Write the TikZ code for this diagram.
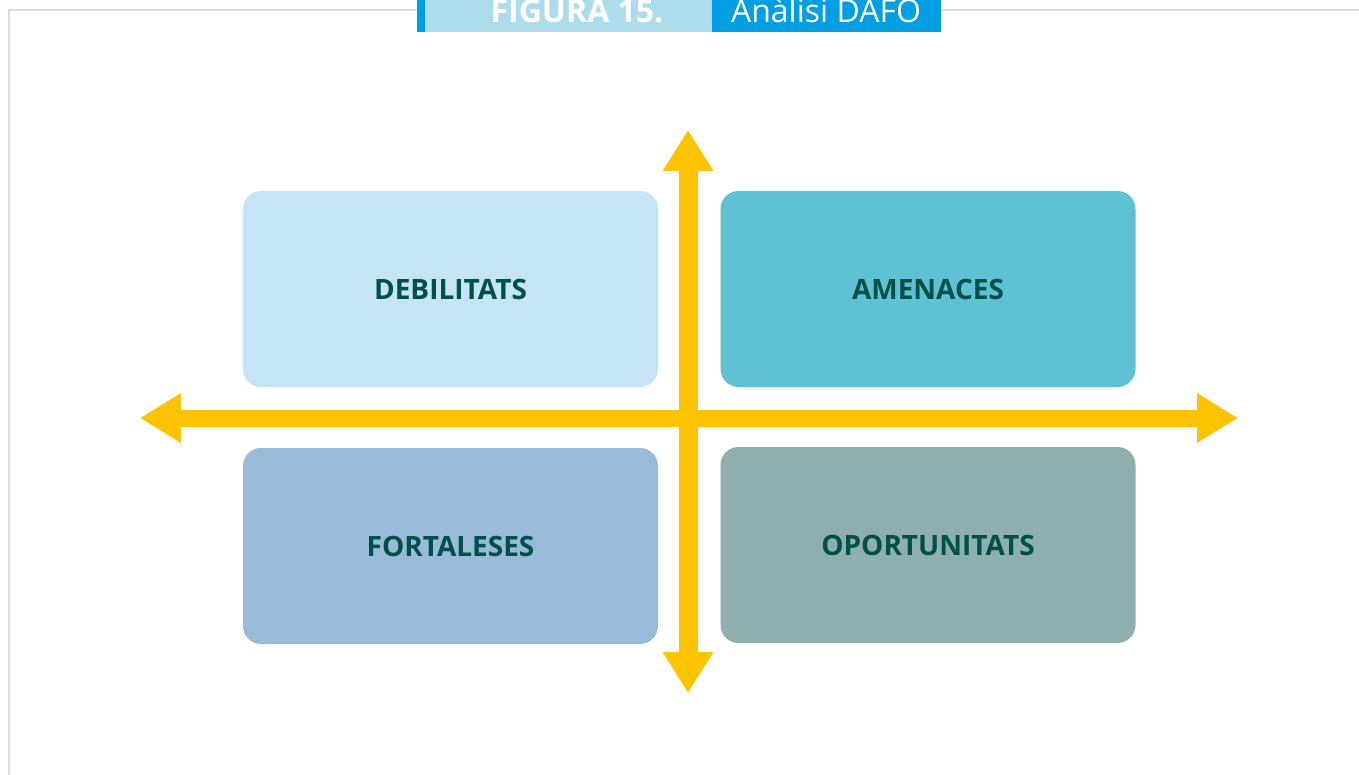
\documentclass[tikz,border=0pt]{standalone}
\usepackage{fontspec}
\setmainfont{Open Sans}
\usetikzlibrary{arrows.meta}

\definecolor{daforay}{HTML}{FDC300}
\definecolor{dafotext}{HTML}{00504A}
\definecolor{debcol}{HTML}{C5E4F5}
\definecolor{amecol}{HTML}{5FC1D4}
\definecolor{fortcol}{HTML}{9ABADA}
\definecolor{opocol}{HTML}{8EAFAD}
\definecolor{figlight}{HTML}{ADDDEC}
\definecolor{figdark}{HTML}{009FE3}
\definecolor{framegray}{HTML}{DDDDDD}

\begin{document}
\begin{tikzpicture}[x=1pt,y=-1pt,
    quad/.style={rounded corners=18pt,minimum width=415pt,minimum height=196pt,
      text=dafotext,font=\bfseries\fontsize{28}{32}\selectfont},
    haxis/.style={draw=daforay,line width=17pt,-{Triangle[width=47pt,length=41pt]}},
    vaxis/.style={draw=daforay,line width=19pt,-{Triangle[width=48pt,length=41pt]}}]
  \useasboundingbox (0,0) rectangle (1359,775);
  % frame and title
  \draw[framegray,line width=2pt] (9,775) -- (9,10) -- (1360,10);
  \fill[figdark] (417,-1) rectangle (941,32);
  \fill[figlight] (425,-1) rectangle (712,32);
  \node[anchor=base,text=white,font=\bfseries\fontsize{32}{36}\selectfont] (fignum) at (577,23) {FIGURA 15.};
  \node[anchor=base,text=white,font=\fontsize{32}{36}\selectfont] (figtitle) at (826,23) {Anàlisi DAFO};
  % quadrants
  \node[quad,fill=debcol]  (deb)  at (450.5,289) {DEBILITATS};
  \node[quad,fill=amecol]  (ame)  at (928,289)   {AMENACES};
  \node[quad,fill=fortcol] (fort) at (450.5,546) {FORTALESES};
  \node[quad,fill=opocol]  (opo)  at (928,545)   {OPORTUNITATS};
  % axes
  \coordinate (west)  at (140,418);
  \coordinate (east)  at (1238,418);
  \coordinate (north) at (688,130);
  \coordinate (south) at (688,693);
  \coordinate (mid)   at (688,418);
  \path
    (mid) edge[haxis] (west)
          edge[haxis] (east)
          edge[vaxis] (north)
          edge[vaxis] (south);
\end{tikzpicture}
\end{document}
